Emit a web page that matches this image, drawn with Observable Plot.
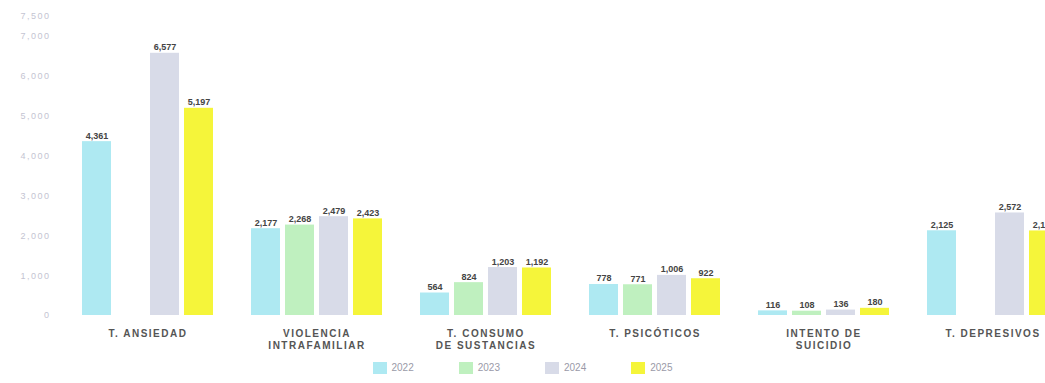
<!DOCTYPE html>
<html><head><meta charset="utf-8">
<script src="https://cdn.jsdelivr.net/npm/d3@7"></script>
<script src="https://cdn.jsdelivr.net/npm/@observablehq/plot@0.6"></script>
<style>
html,body{margin:0;padding:0;background:#fff;overflow:hidden;}
#wrap{width:1045px;height:383px;overflow:hidden;position:relative;}
#chart{position:absolute;left:0;top:0;width:1080px;}
#chart svg{max-width:none !important;}
#legend{position:absolute;left:0;top:351px;width:1045px;display:flex;justify-content:center;}
#legend span{margin-right:45px !important;font:10px "Liberation Sans",sans-serif;color:#9a9aa8;}
#legend span:last-child{margin-right:0 !important;}
#legend svg{margin-right:5px !important;}
</style></head>
<body><div id="wrap"><div id="chart"></div><div id="legend"></div></div>
<script>
const categories = ["T. ANSIEDAD", "VIOLENCIA\nINTRAFAMILIAR", "T. CONSUMO\nDE SUSTANCIAS", "T. PSICÓTICOS", "INTENTO DE\nSUICIDIO", "T. DEPRESIVOS"];
const years = ["2022", "2023", "2024", "2025"];
const v2022 = [4361, 2177, 564, 778, 116, 2125];
const v2023 = [null, 2268, 824, 771, 108, null];
const v2024 = [6577, 2479, 1203, 1006, 136, 2572];
const v2025 = [5197, 2423, 1192, 922, 180, 2121];
const yTicks = [0, 1000, 2000, 3000, 4000, 5000, 6000, 7000, 7500];
const colors = ["#aee9f2", "#bff0bf", "#d8dbe8", "#f5f53a"];

const series = [v2022, v2023, v2024, v2025];
const data = categories.flatMap((c, i) => years.map((yr, j) => ({cat: c, year: yr, value: series[j][i]})))
  .filter(d => d.value != null);

const fmt = d3.format(",");

const chart = Plot.plot({
  width: 1080,
  height: 356,
  marginTop: 16,
  marginBottom: 41,
  marginLeft: 63,
  marginRight: 3,
  style: {fontFamily: "Liberation Sans, sans-serif", background: "#fff", maxWidth: "none"},
  fx: {domain: categories, padding: 0, label: null},
  x: {domain: years, paddingInner: 0.15, paddingOuter: 0.56, axis: null},
  y: {domain: [0, 7500], label: null, axis: null},
  color: {domain: years, range: colors},
  marks: [
    Plot.barY(data, {fx: "cat", x: "year", y: "value", fill: "year"}),
    Plot.text(data, {fx: "cat", x: "year", y: "value", text: d => fmt(d.value),
      lineAnchor: "bottom", dy: -3, fontSize: 9, fontWeight: "bold", fill: "#444"}),
    Plot.axisY({ticks: yTicks, tickSize: 0, tickPadding: 13, tickFormat: fmt,
      fontSize: 9, fill: "#c4c4d2", label: null}),
    Plot.axisFx({anchor: "bottom", tickSize: 0, tickPadding: 13, fontSize: 10,
      fontWeight: "bold", fill: "#555", lineHeight: 1.2, label: null})
  ]
});
d3.select(chart).selectAll('g[aria-label="fx-axis tick label"]').attr("letter-spacing", "1.5");
d3.select(chart).selectAll('g[aria-label="y-axis tick label"]').attr("letter-spacing", "1.5");
document.getElementById("chart").appendChild(chart);

const legend = Plot.legend({color: {domain: years, range: colors}, swatchWidth: 14, swatchHeight: 12});
document.getElementById("legend").appendChild(legend);
</script>
</body></html>
